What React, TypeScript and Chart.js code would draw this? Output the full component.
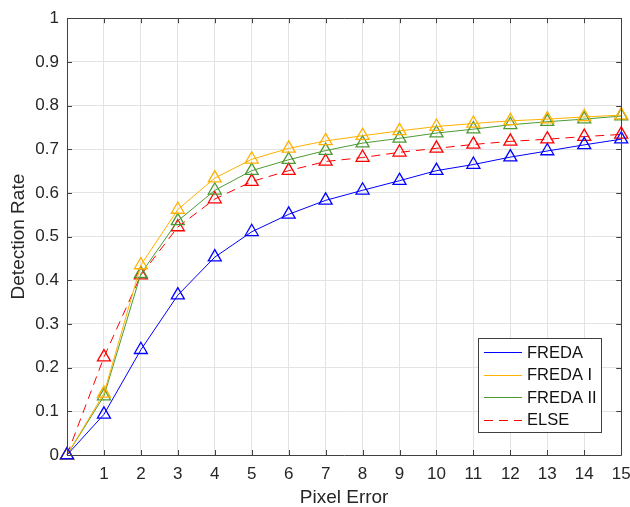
import React, { useEffect, useRef } from "react";
import { Chart, registerables } from "chart.js";
Chart.register(...registerables);

const pixelError = [0, 1, 2, 3, 4, 5, 6, 7, 8, 9, 10, 11, 12, 13, 14, 15];
const fredaValues = [0, 0.093, 0.241, 0.366, 0.453, 0.511, 0.551, 0.583, 0.606, 0.628, 0.651, 0.665, 0.682, 0.696, 0.71, 0.723];
const fredaIValues = [0, 0.141, 0.435, 0.562, 0.634, 0.677, 0.702, 0.719, 0.731, 0.742, 0.752, 0.759, 0.765, 0.769, 0.774, 0.778];
const fredaIIValues = [0, 0.135, 0.415, 0.536, 0.606, 0.651, 0.676, 0.697, 0.714, 0.725, 0.737, 0.746, 0.756, 0.763, 0.769, 0.776];
const elseValues = [0, 0.224, 0.412, 0.522, 0.586, 0.626, 0.651, 0.672, 0.681, 0.693, 0.702, 0.711, 0.718, 0.723, 0.729, 0.734];
const seriesLabels = ["FREDA", "FREDA I", "FREDA II", "ELSE"];
const seriesColors = ["#0000ff", "#ffb000", "#4d9a35", "#ff0000"];
const xTickLabels = ["1", "2", "3", "4", "5", "6", "7", "8", "9", "10", "11", "12", "13", "14", "15"];

const FONT = "'Liberation Sans', Arial, Helvetica, sans-serif";

const boxPlugin = {
  id: "matlabBox",
  afterDraw(chart: any) {
    const { ctx, chartArea: a, scales } = chart;
    ctx.save();
    ctx.strokeStyle = "#404040";
    ctx.lineWidth = 1;
    ctx.beginPath();
    ctx.rect(Math.round(a.left) + 0.5, Math.round(a.top) + 0.5, Math.round(a.right - a.left), Math.round(a.bottom - a.top));
    ctx.stroke();
    const tl = 5;
    ctx.beginPath();
    scales.y.ticks.forEach((t: any) => {
      const y = Math.round(scales.y.getPixelForValue(t.value)) + 0.5;
      ctx.moveTo(a.left, y); ctx.lineTo(a.left + tl, y);
      ctx.moveTo(a.right, y); ctx.lineTo(a.right - tl, y);
    });
    scales.x.ticks.forEach((t: any) => {
      const x = Math.round(scales.x.getPixelForValue(t.value)) + 0.5;
      ctx.moveTo(x, a.bottom); ctx.lineTo(x, a.bottom - tl);
      ctx.moveTo(x, a.top); ctx.lineTo(x, a.top + tl);
    });
    ctx.stroke();

    // legend
    const lx = 478, ly = 338, lw = 123, lh = 94;
    ctx.fillStyle = "#ffffff";
    ctx.fillRect(lx, ly, lw, lh);
    ctx.strokeStyle = "#404040";
    ctx.strokeRect(lx + 0.5, ly + 0.5, lw, lh);
    ctx.font = `16.5px ${FONT}`;
    ctx.textBaseline = "middle";
    chart.data.datasets.forEach((ds: any, i: number) => {
      const yy = ly + 14 + i * 22.5;
      ctx.strokeStyle = ds.borderColor;
      ctx.lineWidth = 1;
      ctx.setLineDash(ds.borderDash || []);
      ctx.beginPath();
      ctx.moveTo(lx + 6, Math.round(yy) + 0.5);
      ctx.lineTo(lx + 44, Math.round(yy) + 0.5);
      ctx.stroke();
      ctx.setLineDash([]);
      ctx.fillStyle = "#111";
      ctx.fillText(ds.label, lx + 49, yy + 1);
    });
    ctx.restore();
  },
};

export default function App() {
  const ref = useRef<HTMLCanvasElement>(null);
  useEffect(() => {
    document.body.style.margin = "0";
    const all = [fredaValues, fredaIValues, fredaIIValues, elseValues];
    const chart = new Chart(ref.current!, {
      type: "line",
      data: {
        datasets: all.map((vals, i) => ({
          label: seriesLabels[i],
          data: pixelError.map((x, j) => ({ x, y: vals[j] })),
          borderColor: seriesColors[i],
          backgroundColor: "rgba(0,0,0,0)",
          borderWidth: 1,
          borderDash: i === 3 ? [9, 6] : [],
          pointStyle: "triangle",
          pointRadius: 7.5,
          pointBorderWidth: 1.3,
          pointBorderColor: seriesColors[i],
          pointBackgroundColor: "rgba(0,0,0,0)",
          tension: 0,
          clip: false as any,
        })),
      },
      options: {
        responsive: false,
        animation: false,
        layout: { padding: { top: 16, right: 2, left: 0, bottom: 0 } },
        plugins: { legend: { display: false }, tooltip: { enabled: false } },
        scales: {
          x: {
            type: "linear",
            min: 0,
            max: 15,
            afterFit: (s: any) => { s.height = 52; s.paddingRight = 8; },
            ticks: {
              stepSize: 1,
              font: { family: FONT, size: 17 },
              color: "#262626",
              padding: 9,
              maxRotation: 0,
              autoSkip: false,
              callback: (v: any) => (v === 0 ? "" : xTickLabels[Math.round(v) - 1]),
            },
            grid: { color: "#e3e3e3", drawTicks: false },
            border: { display: false },
            title: { display: true, text: "Pixel Error", font: { family: FONT, size: 19, lineHeight: 1 }, color: "#262626", padding: { top: 0, bottom: 0 } },
          },
          y: {
            type: "linear",
            min: 0,
            max: 1,
            afterFit: (s: any) => { s.width = 67; },
            ticks: {
              stepSize: 0.1,
              font: { family: FONT, size: 17 },
              color: "#262626",
              padding: 8,
              callback: (v: any) => {
                const r = Math.round(v * 10) / 10;
                return r === 0 ? "0" : r === 1 ? "1" : r.toFixed(1);
              },
            },
            grid: { color: "#e3e3e3", drawTicks: false },
            border: { display: false },
            title: { display: true, text: "Detection Rate", font: { family: FONT, size: 19 }, color: "#262626", padding: { top: 7, bottom: 0 } },
          },
        },
      },
      plugins: [boxPlugin],
    } as any);
    return () => chart.destroy();
  }, []);
  return <canvas ref={ref} width={630} height={507} style={{ display: "block" }} />;
}
